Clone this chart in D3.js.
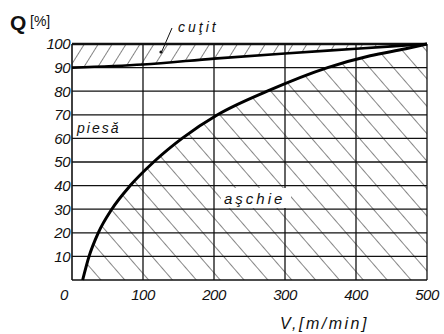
<!DOCTYPE html>
<html>
<head>
<meta charset="utf-8">
<script src="https://cdn.jsdelivr.net/npm/d3@7/dist/d3.min.js"></script>
<style>
  body { margin: 0; background: #fff; }
  svg text { font-family: "Liberation Sans", "DejaVu Sans", sans-serif; font-style: italic; fill: #111; }
</style>
</head>
<body>
<div id="chart"></div>
<script>
// axa V [m/min] si axa Q [%]
const vTicks = [0, 100, 200, 300, 400, 500];
const qTicks = [10, 20, 30, 40, 50, 60, 70, 80, 90, 100];

// curba aschie
const aschieV = [15, 24, 37, 56, 82, 115, 155, 205, 275, 360, 420, 470, 500];
const aschieQ = [0, 10, 20, 30, 40, 50, 60, 70, 80, 90, 95, 98, 100];

// curba piesa / cutit
const cutitV = [0, 100, 200, 300, 400, 500];
const cutitQ = [90, 91.3, 93.8, 96, 98, 100];

const W = 444, H = 334;
const svg = d3.select("#chart").append("svg").attr("width", W).attr("height", H);

const x = d3.scaleLinear().domain([0, 500]).range([72, 427]);
const y = d3.scaleLinear().domain([0, 100]).range([280, 44]);

const aschie = aschieV.map((v, i) => ({ v: v, q: aschieQ[i] }));
const cutit = cutitV.map((v, i) => ({ v: v, q: cutitQ[i] }));

//--- hasuri
const defs = svg.append("defs");
function hatch(id, angle, step) {
  const p = defs.append("pattern")
    .attr("id", id)
    .attr("patternUnits", "userSpaceOnUse")
    .attr("width", step).attr("height", step)
    .attr("patternTransform", `rotate(${angle})`);
  p.append("line")
    .attr("x1", 0).attr("y1", 0).attr("x2", 0).attr("y2", step)
    .attr("stroke", "#222").attr("stroke-width", 1.1);
}
hatch("hAschie", -41, 18);
hatch("hCutit", 32, 11.8);

const areaAschie = d3.area()
  .x(d => x(d.v)).y0(y(0)).y1(d => y(d.q))
  .curve(d3.curveMonotoneX);
const areaCutit = d3.area()
  .x(d => x(d.v)).y0(y(100)).y1(d => y(d.q))
  .curve(d3.curveMonotoneX);

svg.append("path").datum(aschie).attr("d", areaAschie).attr("fill", "url(#hAschie)");
svg.append("path").datum(cutit).attr("d", areaCutit).attr("fill", "url(#hCutit)");

//--- grid vertical
svg.append("g").selectAll("line")
  .data(vTicks.slice(1))
  .enter().append("line")
  .attr("x1", d => x(d)).attr("x2", d => x(d))
  .attr("y1", y(100)).attr("y2", y(0))
  .attr("stroke", "#111").attr("stroke-width", 1.3);

// fond alb sub eticheta "aschie"
svg.append("rect")
  .attr("x", 221).attr("y", 188).attr("width", 70).attr("height", 20)
  .attr("fill", "#fff");

//--- grid orizontal
svg.append("g").selectAll("line")
  .data(qTicks)
  .enter().append("line")
  .attr("x1", x(0)).attr("x2", x(500))
  .attr("y1", d => y(d)).attr("y2", d => y(d))
  .attr("stroke", "#111")
  .attr("stroke-width", d => d === 100 ? 2.6 : 1.3);

// axe
svg.append("line")
  .attr("x1", x(0)).attr("x2", x(0)).attr("y1", y(100)).attr("y2", y(0))
  .attr("stroke", "#111").attr("stroke-width", 1.6);
svg.append("line")
  .attr("x1", x(0)).attr("x2", x(500)).attr("y1", y(0)).attr("y2", y(0))
  .attr("stroke", "#111").attr("stroke-width", 1.6);

//--- curbe
const line = d3.line().x(d => x(d.v)).y(d => y(d.q)).curve(d3.curveMonotoneX);
svg.append("path").datum(aschie).attr("d", line)
  .attr("fill", "none").attr("stroke", "#000").attr("stroke-width", 3);
svg.append("path").datum(cutit).attr("d", line)
  .attr("fill", "none").attr("stroke", "#000").attr("stroke-width", 2.6);

//--- etichete axe
svg.append("g").selectAll("text")
  .data(qTicks)
  .enter().append("text")
  .attr("x", 70).attr("y", d => y(d)).attr("dy", "0.36em")
  .attr("text-anchor", "end")
  .style("font-size", "15px").style("letter-spacing", "-0.5px")
  .text(d => d);

svg.append("g").selectAll("text")
  .data(vTicks)
  .enter().append("text")
  .attr("x", d => d === 0 ? x(d) - 8 : x(d))
  .attr("y", 300)
  .attr("text-anchor", "middle")
  .style("font-size", "15px").style("letter-spacing", "-0.5px")
  .text(d => d);

svg.append("text").attr("x", 10).attr("y", 30)
  .style("font-size", "21px").style("font-weight", "bold").style("font-style", "normal")
  .text("Q");
svg.append("text").attr("x", 30).attr("y", 26)
  .style("font-size", "14px").style("font-style", "normal")
  .text("[%]");

svg.append("text").attr("x", 280).attr("y", 329)
  .style("font-size", "16px").style("letter-spacing", "2.5px")
  .text("V,[m/min]");

//--- etichete zone
svg.append("text").attr("x", 77).attr("y", 133)
  .style("font-size", "14px").style("letter-spacing", "2px")
  .text("piesă");
svg.append("text").attr("x", 224).attr("y", 204)
  .style("font-size", "15px").style("letter-spacing", "3px")
  .text("aşchie");
svg.append("text").attr("x", 178).attr("y", 32)
  .style("font-size", "14px").style("letter-spacing", "3px")
  .text("cuţit");

// sageata spre zona cutit
svg.append("line")
  .attr("x1", 172).attr("y1", 28).attr("x2", 162).attr("y2", 51)
  .attr("stroke", "#111").attr("stroke-width", 1);
svg.append("circle").attr("cx", 161).attr("cy", 52).attr("r", 1.6).attr("fill", "#111");
</script>
</body>
</html>
